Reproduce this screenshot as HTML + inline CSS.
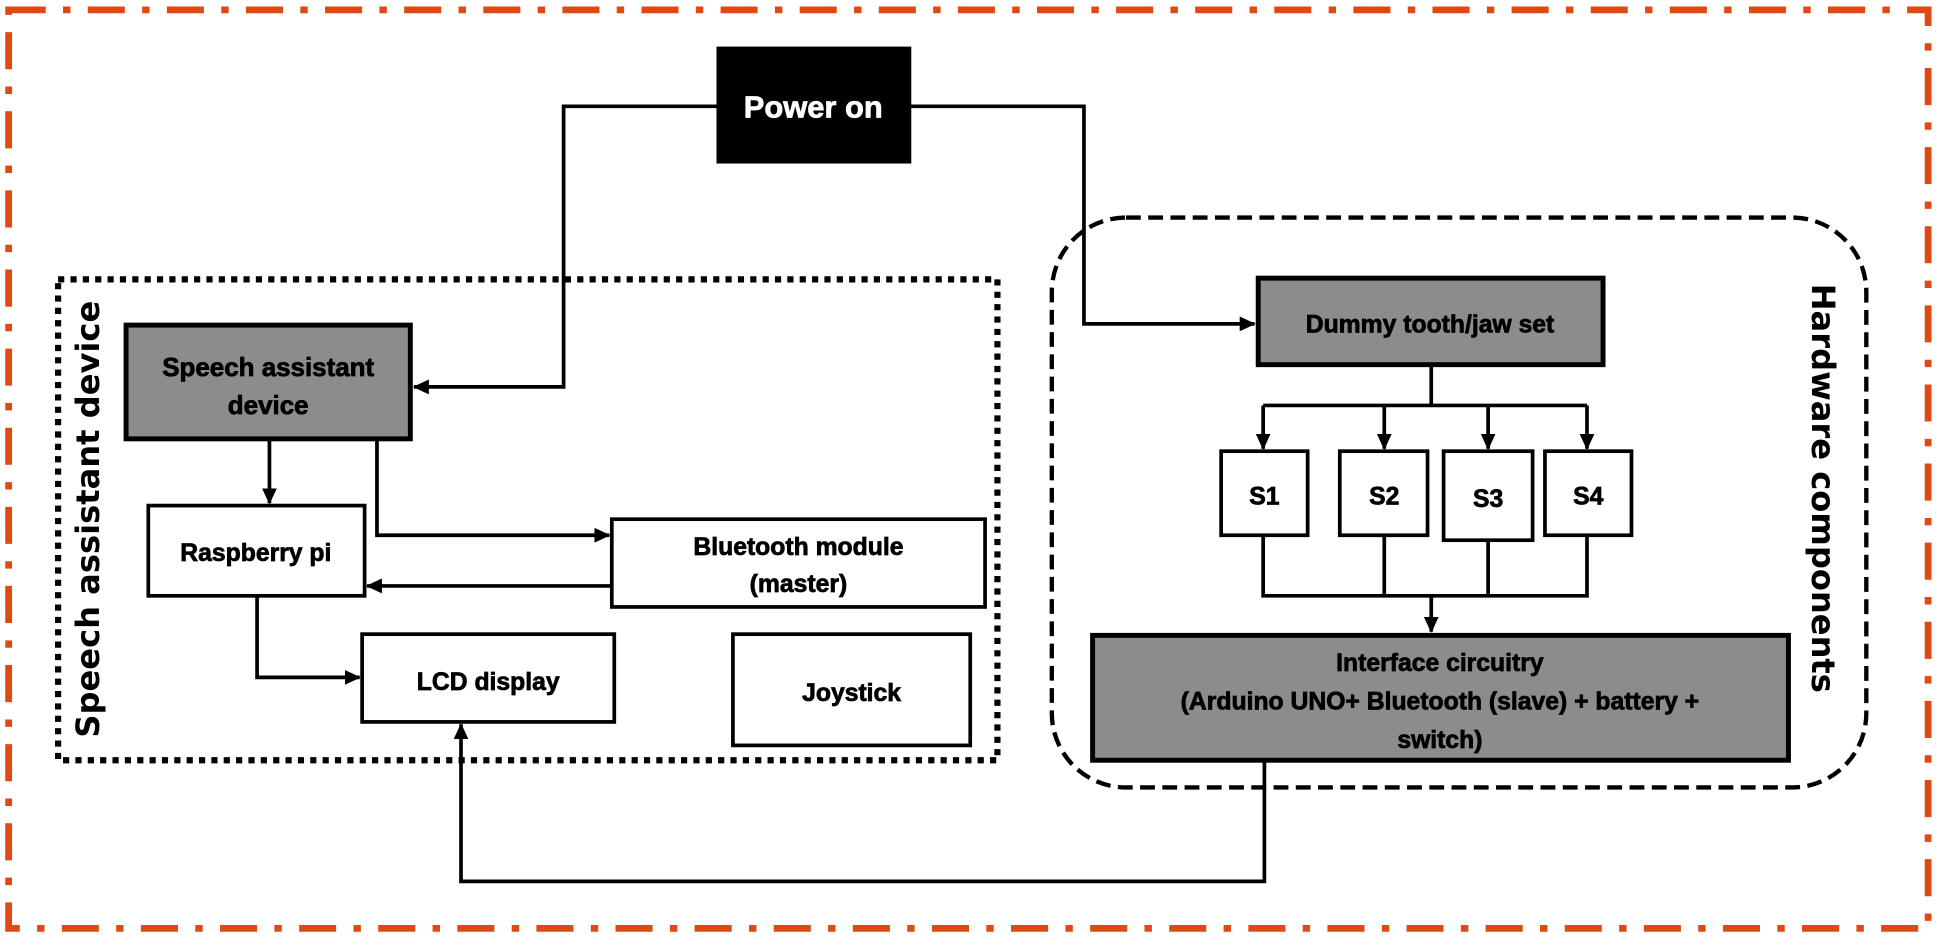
<!DOCTYPE html>
<html><head><style>html,body{margin:0;padding:0;background:#fff}svg{display:block}</style></head>
<body>
<svg width="1938" height="937" viewBox="0 0 1568 758" preserveAspectRatio="none" xmlns="http://www.w3.org/2000/svg" font-family="'Liberation Sans', sans-serif" font-weight="bold">
<defs>
<marker id="a" markerWidth="13" markerHeight="12" refX="12" refY="6" orient="auto" markerUnits="userSpaceOnUse"><path d="M0,0 L13,6 L0,12 z" fill="#000"/></marker>
</defs>
<rect x="7" y="8" width="1553" height="743" fill="none" stroke="#e04a12" stroke-width="5.5" stroke-dasharray="30,14,6,14"/>
<rect x="47" y="226" width="760" height="389" fill="none" stroke="#000" stroke-width="5" stroke-dasharray="5,5"/>
<text transform="translate(80,420) rotate(-90)" text-anchor="middle" font-size="26" font-family="'DejaVu Sans', sans-serif" font-weight="bold">Speech assistant device</text>
<rect x="851" y="176" width="659" height="461" rx="60" fill="none" stroke="#000" stroke-width="3.5" stroke-dasharray="12,6"/>
<text transform="translate(1466,395) rotate(90)" text-anchor="middle" font-size="26" font-family="'DejaVu Sans', sans-serif" font-weight="bold">Hardware components</text>
<g fill="none" stroke="#000" stroke-width="3">
<polyline points="580,86 456,86 456,313 335,313" marker-end="url(#a)"/>
<polyline points="737,86 877,86 877,262 1015,262" marker-end="url(#a)"/>
<polyline points="218,356 218,407" marker-end="url(#a)"/>
<polyline points="305,356 305,433 493,433" marker-end="url(#a)"/>
<polyline points="495,474 297,474" marker-end="url(#a)"/>
<polyline points="208,482 208,548 291,548" marker-end="url(#a)"/>
<polyline points="1158,296 1158,328"/>
<polyline points="1022,328 1284,328"/>
<polyline points="1022,328 1022,363" marker-end="url(#a)"/>
<polyline points="1120,328 1120,363" marker-end="url(#a)"/>
<polyline points="1204,328 1204,363" marker-end="url(#a)"/>
<polyline points="1284,328 1284,363" marker-end="url(#a)"/>
<polyline points="1022,433 1022,482 1284,482 1284,433"/>
<polyline points="1120,433 1120,482"/>
<polyline points="1204,437 1204,482"/>
<polyline points="1158,482 1158,511" marker-end="url(#a)"/>
<polyline points="1023,616 1023,713 373,713 373,586" marker-end="url(#a)"/>
</g>
<g stroke="#000" stroke-width="0.6">
<rect x="580" y="38" width="157" height="94" fill="#000"/>
<text x="658" y="95" text-anchor="middle" font-size="25" fill="#fff" stroke="#fff">Power on</text>
<rect x="102" y="263" width="230" height="92" fill="#8c8c8c" stroke-width="4"/>
<text x="217" y="304" text-anchor="middle" font-size="21">Speech assistant</text>
<text x="217" y="335" text-anchor="middle" font-size="21">device</text>
<rect x="120" y="409" width="175" height="73" fill="#fff" stroke-width="3"/>
<text x="207" y="454" text-anchor="middle" font-size="20">Raspberry pi</text>
<rect x="495" y="420" width="302" height="71" fill="#fff" stroke-width="3"/>
<text x="646" y="449" text-anchor="middle" font-size="20">Bluetooth module</text>
<text x="646" y="479" text-anchor="middle" font-size="20">(master)</text>
<rect x="293" y="513" width="204" height="71" fill="#fff" stroke-width="3"/>
<text x="395" y="558" text-anchor="middle" font-size="20">LCD display</text>
<rect x="593" y="513" width="192" height="90" fill="#fff" stroke-width="3"/>
<text x="689" y="567" text-anchor="middle" font-size="20">Joystick</text>
<rect x="1018" y="225" width="279" height="70" fill="#8c8c8c" stroke-width="4"/>
<text x="1157" y="269" text-anchor="middle" font-size="20">Dummy tooth/jaw set</text>
<rect x="988" y="365" width="70" height="68" fill="#fff" stroke-width="3"/>
<text x="1023" y="408" text-anchor="middle" font-size="20">S1</text>
<rect x="1084" y="365" width="71" height="68" fill="#fff" stroke-width="3"/>
<text x="1120" y="408" text-anchor="middle" font-size="20">S2</text>
<rect x="1168" y="365" width="72" height="72" fill="#fff" stroke-width="3"/>
<text x="1204" y="410" text-anchor="middle" font-size="20">S3</text>
<rect x="1250" y="365" width="70" height="68" fill="#fff" stroke-width="3"/>
<text x="1285" y="408" text-anchor="middle" font-size="20">S4</text>
<rect x="884" y="514" width="563" height="101" fill="#8c8c8c" stroke-width="4"/>
<text x="1165" y="543" text-anchor="middle" font-size="20">Interface circuitry</text>
<text x="1165" y="574" text-anchor="middle" font-size="20">(Arduino UNO+ Bluetooth (slave) + battery +</text>
<text x="1165" y="605" text-anchor="middle" font-size="20">switch)</text>
</g>
</svg>
</body></html>
